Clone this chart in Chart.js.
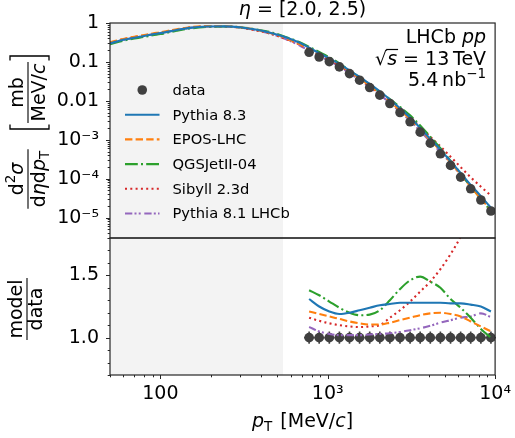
<!DOCTYPE html>
<html><head><meta charset="utf-8">
<script src="https://cdn.jsdelivr.net/npm/chart.js@4/dist/chart.umd.min.js"></script>
<style>html,body{margin:0;padding:0;background:#fff}canvas{display:block}</style>
</head><body>
<canvas id="c" width="515" height="438"></canvas>
<script>
// ---------------- data ----------------
const pT = [774, 889, 1022, 1174, 1349, 1550, 1781, 2047, 2351, 2703, 3105, 3567, 4100, 4711, 5416, 6223, 7148, 8222, 9441];
const dataXsec = [0.177, 0.134, 0.102, 0.0745, 0.0502, 0.0339, 0.022, 0.014, 0.00855, 0.00502, 0.0029, 0.00157, 8.2e-4, 4.37e-4, 2.2e-4, 1.1e-4, 5.5e-5, 2.84e-5, 1.48e-5];
const dataRelErr = [0.05, 0.05, 0.05, 0.05, 0.05, 0.05, 0.05, 0.05, 0.05, 0.05, 0.05, 0.05, 0.05, 0.05, 0.05, 0.05, 0.05, 0.05, 0.05];

// model curves below the data range (top panel)
const pTlow = [50, 60, 70, 80, 90, 100, 125, 150, 190, 240, 300, 370, 470, 560, 680];
const pythia83Low = [0.30, 0.37, 0.42, 0.465, 0.51, 0.55, 0.66, 0.75, 0.81, 0.82, 0.78, 0.68, 0.54, 0.43, 0.31];
const eposLow     = [0.32, 0.39, 0.445, 0.49, 0.54, 0.58, 0.69, 0.78, 0.83, 0.83, 0.78, 0.67, 0.53, 0.41, 0.29];
const qgsjetLow   = [0.285, 0.35, 0.40, 0.44, 0.485, 0.52, 0.63, 0.72, 0.79, 0.81, 0.78, 0.69, 0.56, 0.44, 0.32];
const sibyllLow   = [0.31, 0.38, 0.43, 0.475, 0.52, 0.56, 0.67, 0.76, 0.81, 0.81, 0.76, 0.65, 0.51, 0.39, 0.28];
const pythia81Low = [0.30, 0.37, 0.42, 0.465, 0.51, 0.55, 0.66, 0.75, 0.81, 0.81, 0.76, 0.65, 0.51, 0.385, 0.265];

// model / data ratios at the data pT values (bottom panel)
const ratioPythia83 = [1.31, 1.25, 1.21, 1.19, 1.20, 1.22, 1.24, 1.26, 1.27, 1.28, 1.28, 1.28, 1.28, 1.28, 1.275, 1.275, 1.265, 1.25, 1.21];
const ratioEpos     = [1.21, 1.19, 1.17, 1.15, 1.13, 1.115, 1.105, 1.105, 1.12, 1.14, 1.16, 1.18, 1.195, 1.20, 1.19, 1.17, 1.13, 1.09, 1.05];
const ratioQgsjet   = [1.38, 1.34, 1.29, 1.24, 1.20, 1.18, 1.185, 1.22, 1.30, 1.39, 1.46, 1.49, 1.45, 1.40, 1.31, 1.24, 1.16, 1.07, 1.00];
const ratioSibyll   = [1.16, 1.135, 1.115, 1.10, 1.09, 1.085, 1.09, 1.10, 1.16, 1.22, 1.29, 1.37, 1.45, 1.55, 1.67, 1.81, 1.98, 2.2, 2.5];
const ratioPythia81 = [1.085, 1.05, 1.03, 1.02, 1.02, 1.02, 1.025, 1.03, 1.035, 1.045, 1.06, 1.075, 1.095, 1.12, 1.14, 1.16, 1.17, 1.195, 1.165];

const modelNames = ['Pythia 8.3', 'EPOS-LHC', 'QGSJetII-04', 'Sibyll 2.3d', 'Pythia 8.1 LHCb'];
const xMajor = [100, 1000, 10000];
const xTickLabels = ['100', '10³', '10⁴'];
const xMinor = [50, 60, 70, 80, 90, 200, 300, 400, 500, 600, 700, 800, 900, 2000, 3000, 4000, 5000, 6000, 7000, 8000, 9000];
const yMajor = [1, 0.1, 0.01, 1e-3, 1e-4, 1e-5];
const yTickLabels = ['1', '0.1', '0.01', '10⁻³', '10⁻⁴', '10⁻⁵'];
const rMajor = [1.0, 1.5];
const rTickLabels = ['1.0', '1.5'];
const rMinor = [0.7, 0.8, 0.9, 1.1, 1.2, 1.3, 1.4, 1.6, 1.7, 1.8];
const shadeRange = [50, 540];

// ---------------- styles ----------------
const modelLow = [pythia83Low, eposLow, qgsjetLow, sibyllLow, pythia81Low];
const modelRatio = [ratioPythia83, ratioEpos, ratioQgsjet, ratioSibyll, ratioPythia81];
const colors = ['#1f77b4', '#ff7f0e', '#2ca02c', '#d62728', '#9467bd'];
const dashes = [[], [7.4, 3.2], [12.8, 3.2, 2, 3.2], [2, 3.3], [7.3, 2.2, 2, 2.2, 2, 3.6]];
const DATA_COLOR = '#404040';
const FONT = '"DejaVu Sans", sans-serif';

const datasets = [];
datasets.push({label: 'data', data: pT.map((x, i) => ({x, y: dataXsec[i]})), yAxisID: 'y',
  showLine: false, pointRadius: 4.8, pointBackgroundColor: DATA_COLOR, pointBorderWidth: 0, pointHoverRadius: 4.8});
modelNames.forEach((name, k) => {
  const pts = pTlow.map((x, i) => ({x, y: modelLow[k][i]}))
    .concat(pT.map((x, i) => ({x, y: modelRatio[k][i] * dataXsec[i]})));
  datasets.push({label: name, data: pts, yAxisID: 'y', showLine: true, pointRadius: 0,
    borderColor: colors[k], borderWidth: 2.1, borderDash: dashes[k], cubicInterpolationMode: 'monotone', fill: false});
});
modelNames.forEach((name, k) => {
  datasets.push({label: name + ' ratio', data: pT.map((x, i) => ({x, y: modelRatio[k][i]})), yAxisID: 'yr',
    showLine: true, pointRadius: 0, borderColor: colors[k], borderWidth: 2.1, borderDash: dashes[k],
    cubicInterpolationMode: 'monotone', fill: false});
});
const RATIO_DATA_INDEX = datasets.length;
datasets.push({label: 'data ratio', data: pT.map((x, i) => ({x, y: dataXsec[i] / dataXsec[i]})), yAxisID: 'yr',
  showLine: false, pointRadius: 4.8, pointBackgroundColor: DATA_COLOR, pointBorderWidth: 0});

// ---------------- helpers ----------------
function drawRuns(ctx, runs, x, y, align) {
  let w = 0;
  runs.forEach(r => { ctx.font = r.f; r.w = ctx.measureText(r.t).width; w += r.w + (r.sp || 0); });
  let cx = align === 'right' ? x - w : align === 'center' ? x - w / 2 : x;
  runs.forEach(r => {
    ctx.font = r.f; ctx.fillText(r.t, cx, y + (r.dy || 0));
    if (r.over) { ctx.save(); ctx.lineWidth = 1.2; ctx.beginPath(); ctx.moveTo(cx - 1, y - 15.5); ctx.lineTo(cx + r.w + 1, y - 15.5); ctx.stroke(); ctx.restore(); }
    cx += r.w + (r.sp || 0);
  });
  return w;
}
function runsWidth(ctx, runs) { let w = 0; runs.forEach(r => { ctx.font = r.f; w += ctx.measureText(r.t).width + (r.sp || 0); }); return w; }
const F = s => s + 'px ' + FONT;
const FI = s => 'italic ' + s + 'px ' + FONT;

function fraction(ctx, num, den, cu, lineV, numBase, denBase) {
  const wn = runsWidth(ctx, num), wd = runsWidth(ctx, den), w = Math.max(wn, wd);
  drawRuns(ctx, num, cu, numBase, 'center');
  drawRuns(ctx, den, cu, denBase, 'center');
  ctx.lineWidth = 1.1; ctx.beginPath(); ctx.moveTo(cu - w / 2 - 1.5, lineV); ctx.lineTo(cu + w / 2 + 1.5, lineV); ctx.stroke();
}

const panelPlugin = {
  id: 'panels',
  beforeDatasetsDraw(chart) {
    const {ctx, chartArea: a, scales: {x}} = chart;
    ctx.save(); ctx.fillStyle = '#f3f3f3';
    const x0 = x.getPixelForValue(shadeRange[0]), x1 = x.getPixelForValue(shadeRange[1]);
    ctx.fillRect(x0, a.top, x1 - x0, a.bottom - a.top); ctx.restore();
  },
  beforeDatasetDraw(chart, args) {
    const meta = chart.getDatasetMeta(args.index); const sc = chart.scales[meta.yAxisID]; const a = chart.chartArea;
    chart.ctx.save(); chart.ctx.beginPath(); chart.ctx.rect(a.left, sc.top, a.right - a.left, sc.bottom - sc.top); chart.ctx.clip();
  },
  afterDatasetDraw(chart, args) {
    chart.ctx.restore();
    if (args.index === RATIO_DATA_INDEX) {
      const {ctx, scales: {x, yr}} = chart;
      ctx.save(); ctx.strokeStyle = DATA_COLOR; ctx.lineWidth = 1.6;
      pT.forEach((v, i) => {
        const px = x.getPixelForValue(v);
        const lo = i > 0 ? Math.sqrt(pT[i - 1] * v) : v * v / Math.sqrt(v * pT[i + 1]);
        const hi = i < pT.length - 1 ? Math.sqrt(pT[i + 1] * v) : v * v / Math.sqrt(v * pT[i - 1]);
        ctx.beginPath();
        ctx.moveTo(px, yr.getPixelForValue(1 - dataRelErr[i])); ctx.lineTo(px, yr.getPixelForValue(1 + dataRelErr[i]));
        ctx.moveTo(x.getPixelForValue(lo), yr.getPixelForValue(1)); ctx.lineTo(x.getPixelForValue(hi), yr.getPixelForValue(1));
        ctx.stroke();
      });
      ctx.restore();
    }
  },
  afterDraw(chart) {
    const {ctx, chartArea: a, scales: {x, y, yr}} = chart;
    ctx.save();
    ctx.strokeStyle = '#262626'; ctx.lineWidth = 1.2;
    ctx.strokeRect(a.left, y.top, a.right - a.left, y.bottom - y.top);
    ctx.strokeRect(a.left, yr.top, a.right - a.left, yr.bottom - yr.top);
    ctx.lineWidth = 1;
    const tick = (x0, y0, x1, y1) => { ctx.beginPath(); ctx.moveTo(x0, y0); ctx.lineTo(x1, y1); ctx.stroke(); };
    xMajor.forEach(v => { const p = Math.round(x.getPixelForValue(v)) + 0.5; tick(p, a.bottom, p, a.bottom + 4); });
    xMinor.forEach(v => { const p = Math.round(x.getPixelForValue(v)) + 0.5; tick(p, a.bottom, p, a.bottom + 2.3); });
    yMajor.forEach(v => { const p = Math.round(y.getPixelForValue(v)) + 0.5; tick(a.left - 4, p, a.left, p); });
    for (let d = -6; d < 0; d++) for (let m = 2; m <= 9; m++) {
      const v = m * Math.pow(10, d); if (v < y.min || v > y.max) continue;
      const p = Math.round(y.getPixelForValue(v)) + 0.5; tick(a.left - 2.3, p, a.left, p);
    }
    rMajor.forEach(v => { const p = Math.round(yr.getPixelForValue(v)) + 0.5; tick(a.left - 4, p, a.left, p); });
    rMinor.forEach(v => { const p = Math.round(yr.getPixelForValue(v)) + 0.5; tick(a.left - 2.3, p, a.left, p); });

    ctx.fillStyle = '#000'; ctx.strokeStyle = '#000'; ctx.textBaseline = 'alphabetic';
    const cx = (a.left + a.right) / 2;
    drawRuns(ctx, [{t: 'η', f: FI(19)}, {t: ' = [2.0, 2.5)', f: F(19)}], cx, 15, 'center');
    const rx = a.right - 9;
    drawRuns(ctx, [{t: 'LHCb ', f: F(19)}, {t: 'pp', f: FI(19)}], rx, 43, 'right');
    drawRuns(ctx, [{t: '√', f: F(19)}, {t: 's', f: FI(19), over: true}, {t: ' = 13\u2009TeV', f: F(19)}], rx, 65, 'right');
    drawRuns(ctx, [{t: '5.4\u2009nb', f: F(19)}, {t: '−1', f: F(13.5), dy: -8}], rx, 86, 'right');
    drawRuns(ctx, [{t: 'p', f: FI(19)}, {t: 'T', f: F(13.5), dy: 4, sp: 2}, {t: ' [MeV/', f: F(19)}, {t: 'c', f: FI(19)}, {t: ']', f: F(19)}], cx, 427, 'center');

    ctx.save(); ctx.translate(28, 212); ctx.rotate(-Math.PI / 2);
    fraction(ctx, [{t: 'd', f: F(19)}, {t: '2', f: F(13.5), dy: -8}, {t: 'σ', f: FI(19)}],
      [{t: 'd', f: F(19)}, {t: 'η', f: FI(19)}, {t: 'd', f: F(19)}, {t: 'p', f: FI(19)}, {t: 'T', f: F(13.5), dy: 4}], 33, 0, -5, 17);
    fraction(ctx, [{t: 'mb', f: F(19)}], [{t: 'MeV/', f: F(19)}, {t: 'c', f: FI(19)}], 119.5, 0, -5, 17);
    ctx.lineWidth = 1.3;
    const br = (u, dir) => { ctx.beginPath(); ctx.moveTo(u + 4.5 * dir, -18); ctx.lineTo(u, -18); ctx.lineTo(u, 21); ctx.lineTo(u + 4.5 * dir, 21); ctx.stroke(); };
    br(83, 1); br(156, -1);
    ctx.restore();
    ctx.save(); ctx.translate(27, 309); ctx.rotate(-Math.PI / 2);
    fraction(ctx, [{t: 'model', f: F(19)}], [{t: 'data', f: F(19)}], 0, 0, -5, 15);
    ctx.restore();

    const lx0 = 125, lx1 = 159.5, ltx = 172.5, ly0 = 90, ldy = 24.7;
    ctx.font = F(14.7); ctx.textBaseline = 'middle';
    ctx.fillStyle = DATA_COLOR; ctx.beginPath(); ctx.arc((lx0 + lx1) / 2, ly0, 4.8, 0, 2 * Math.PI); ctx.fill();
    ctx.fillStyle = '#000'; ctx.fillText(datasets[0].label, ltx, ly0 + 1);
    modelNames.forEach((n, k) => {
      const ds = datasets[1 + k]; const yy = ly0 + ldy * (k + 1);
      ctx.save(); ctx.strokeStyle = ds.borderColor; ctx.lineWidth = ds.borderWidth; ctx.setLineDash(ds.borderDash);
      ctx.beginPath(); ctx.moveTo(lx0, yy); ctx.lineTo(lx1, yy); ctx.stroke(); ctx.restore();
      ctx.fillText(n, ltx, yy + 1);
    });
    ctx.restore();
  }
};

const tickFont = {family: 'DejaVu Sans', size: 19};
const gridOpts = {drawOnChartArea: false, drawTicks: true, tickLength: 4, tickColor: 'rgba(0,0,0,0)'};
new Chart(document.getElementById('c'), {
  type: 'scatter',
  data: {datasets},
  options: {
    responsive: false, animation: false, devicePixelRatio: 1,
    layout: {padding: {left: 0, right: 18, top: 23, bottom: 0}},
    plugins: {legend: {display: false}, tooltip: {enabled: false}, title: {display: false}},
    scales: {
      x: {type: 'logarithmic', position: 'bottom', min: 50, max: 10000,
        afterBuildTicks: s => { s.ticks = xMajor.map(v => ({value: v})); },
        afterFit: s => { s.height = 63; },
        ticks: {autoSkip: false, maxRotation: 0, callback: (v, i) => xTickLabels[i], font: tickFont, color: '#000', padding: 4},
        grid: gridOpts, border: {display: false}},
      yr: {type: 'linear', position: 'left', stack: 'panels', stackWeight: 137, min: 0.7, max: 1.8,
        afterBuildTicks: s => { s.ticks = rMajor.map(v => ({value: v})); },
        afterFit: s => { s.width = 110; },
        ticks: {autoSkip: false, callback: (v, i) => rTickLabels[i], font: tickFont, color: '#000', padding: 7},
        grid: gridOpts, border: {display: false}},
      y: {type: 'logarithmic', position: 'left', stack: 'panels', stackWeight: 215, min: 3e-6, max: 1,
        afterBuildTicks: s => { s.ticks = yMajor.map(v => ({value: v})); },
        afterFit: s => { s.width = 110; },
        ticks: {autoSkip: false, callback: (v, i) => yTickLabels[i], font: tickFont, color: '#000', padding: 7},
        grid: gridOpts, border: {display: false}}
    }
  },
  plugins: [panelPlugin]
});
</script>
</body></html>
